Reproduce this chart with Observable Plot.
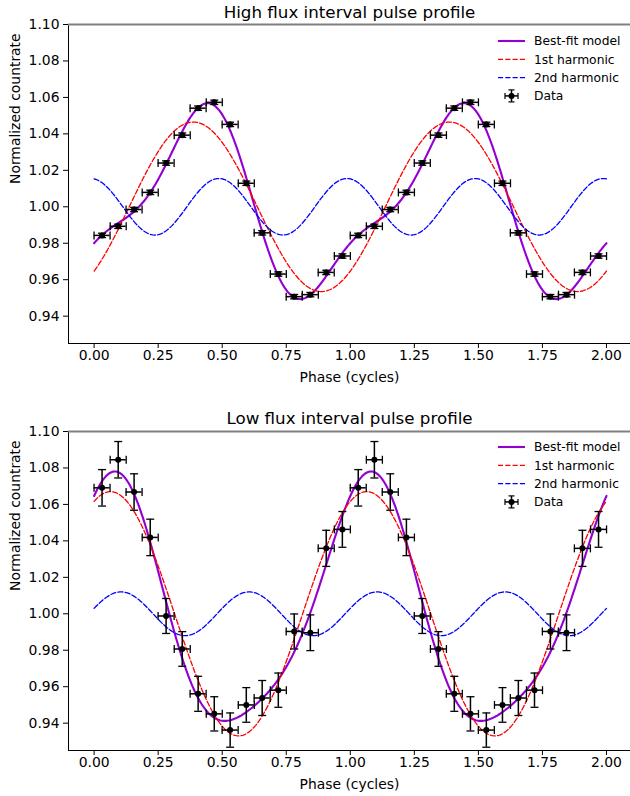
<!DOCTYPE html>
<html>
<head>
<meta charset="utf-8">
<script src="https://cdn.jsdelivr.net/npm/d3@7"></script>
<script src="https://cdn.jsdelivr.net/npm/@observablehq/plot@0.6"></script>
<style>
  html, body { margin: 0; padding: 0; background: white; }
  #chart svg { display: block; }
</style>
</head>
<body>
<div id="chart"></div>
<script>
// ---- data ----
const binPhases = [0.031, 0.094, 0.156, 0.219, 0.281, 0.344, 0.406, 0.469,
                   0.531, 0.594, 0.656, 0.719, 0.781, 0.844, 0.906, 0.969];
const phaseErr = 0.03125;
const cycles = [0, 1];

const highRate = [0.9843, 0.9893, 0.9985, 1.0079, 1.0240, 1.0393, 1.0541, 1.0573,
                  1.0452, 1.0129, 0.9857, 0.9631, 0.9507, 0.9518, 0.9640, 0.9730];
const highErr  = [0.0012, 0.0012, 0.0012, 0.0012, 0.0012, 0.0012, 0.0012, 0.0012,
                  0.0012, 0.0012, 0.0012, 0.0012, 0.0012, 0.0012, 0.0012, 0.0012];

const lowRate = [1.0691, 1.0845, 1.0668, 1.0419, 0.9988, 0.9807, 0.9561, 0.9451,
                 0.9362, 0.9500, 0.9538, 0.9581, 0.9903, 0.9896, 1.0359, 1.0463];
const lowErr  = [0.0100, 0.0100, 0.0100, 0.0100, 0.0096, 0.0095, 0.0096, 0.0094,
                 0.0094, 0.0095, 0.0096, 0.0094, 0.0096, 0.0098, 0.0099, 0.0098];

// harmonic fit parameters (amplitude, phase of maximum)
const highHarm1 = [0.0465, 0.387];
const highHarm2 = [0.0155, 0.487];
const lowHarm1  = [0.067, 0.064];
const lowHarm2  = [0.012, 0.105];

const xTicks = [0, 0.25, 0.5, 0.75, 1.0, 1.25, 1.5, 1.75, 2.0];
const yTicks = [0.94, 0.96, 0.98, 1.00, 1.02, 1.04, 1.06, 1.08, 1.10];
const legendLabels = ["Best-fit model", "1st harmonic", "2nd harmonic", "Data"];

// ---- helpers ----
function makeData(rate, err) {
  const out = [];
  for (const c of cycles) binPhases.forEach((p, i) => out.push({phase: p + c, y: rate[i], yerr: err[i]}));
  return out;
}
function makeModel(h1, h2) {
  const grid = d3.range(0, 2.0001, 0.005);
  return grid.map(p => {
    const a = h1[0] * Math.cos(2 * Math.PI * (p - h1[1]));
    const b = h2[0] * Math.cos(4 * Math.PI * (p - h2[1]));
    return {phase: p, total: 1 + a + b, h1: 1 + a, h2: 1 + b};
  });
}
const hcap = {draw(ctx) { ctx.moveTo(-4, 0); ctx.lineTo(4, 0); }};
const vcap = {draw(ctx) { ctx.moveTo(0, -4); ctx.lineTo(0, 4); }};
const DASH = "5.1,2.2";
const FS = 13.9;

function panel(cfg) {
  const data = makeData(cfg.rate, cfg.err);
  const model = makeModel(cfg.h1, cfg.h2);
  const H = 398;
  const svg = Plot.plot({
    width: 630, height: H,
    marginTop: cfg.top, marginBottom: H - cfg.bottom, marginLeft: 68, marginRight: 0,
    style: {fontFamily: "DejaVu Sans", fontSize: FS + "px", color: "black", background: "white"},
    x: {domain: [-0.1, 2.1], range: [68, 631.6]},
    y: {domain: [0.925, 1.10]},
    marks: [
      Plot.axisX({ticks: xTicks, tickFormat: d3.format(".2f"), tickSize: 5, tickPadding: 2, fontSize: FS, label: null}),
      Plot.axisY({ticks: yTicks, tickFormat: d3.format(".2f"), tickSize: 5, tickPadding: 4, fontSize: FS, label: null}),
      Plot.ruleX([-0.1], {stroke: "black", strokeWidth: 1}),
      Plot.ruleY([0.925], {stroke: "black", strokeWidth: 1}),
      Plot.ruleY([1.10], {stroke: "#808080", strokeWidth: 2}),
      Plot.line(model, {x: "phase", y: "total", stroke: "#9400d3", strokeWidth: 2.1}),
      Plot.line(model, {x: "phase", y: "h1", stroke: "red", strokeWidth: 1.3, strokeDasharray: DASH}),
      Plot.line(model, {x: "phase", y: "h2", stroke: "blue", strokeWidth: 1.3, strokeDasharray: DASH}),
      Plot.ruleX(data, {x: "phase", y1: d => d.y - d.yerr, y2: d => d.y + d.yerr, stroke: "black", strokeWidth: 1.5}),
      Plot.ruleY(data, {y: "y", x1: d => d.phase - phaseErr, x2: d => d.phase + phaseErr, stroke: "black", strokeWidth: 1.5}),
      Plot.dot(data, {x: "phase", y: d => d.y + d.yerr, symbol: hcap, fill: "none", stroke: "black", strokeWidth: 1.3}),
      Plot.dot(data, {x: "phase", y: d => d.y - d.yerr, symbol: hcap, fill: "none", stroke: "black", strokeWidth: 1.3}),
      Plot.dot(data, {x: d => d.phase - phaseErr, y: "y", symbol: vcap, fill: "none", stroke: "black", strokeWidth: 1.3}),
      Plot.dot(data, {x: d => d.phase + phaseErr, y: "y", symbol: vcap, fill: "none", stroke: "black", strokeWidth: 1.3}),
      Plot.dot(data, {x: "phase", y: "y", r: 3, fill: "black", stroke: "none"}),
      Plot.text([cfg.title], {frameAnchor: "top", dy: cfg.titleDy, fontSize: 16.7, lineAnchor: "middle", fill: "black"}),
      Plot.text(["Phase (cycles)"], {frameAnchor: "bottom", dy: 34, fontSize: FS, lineAnchor: "middle", fill: "black"}),
      Plot.text(["Normalized countrate"], {frameAnchor: "left", dx: -53, rotate: -90, fontSize: FS, lineAnchor: "middle", fill: "black"})
    ]
  });
  // legend
  const g = d3.select(svg).append("g")
    .attr("font-family", "DejaVu Sans").attr("font-size", "12.3px").attr("text-anchor", "start");
  const y0 = cfg.top + cfg.legendOffset, dyRow = 18.3;
  const styles = [
    {stroke: "#9400d3", w: 2.1, dash: null},
    {stroke: "red", w: 1.3, dash: DASH},
    {stroke: "blue", w: 1.3, dash: DASH}
  ];
  styles.forEach((s, i) => {
    const y = y0 + i * dyRow;
    const l = g.append("line").attr("x1", 498).attr("x2", 525).attr("y1", y).attr("y2", y)
      .attr("stroke", s.stroke).attr("stroke-width", s.w);
    if (s.dash) l.attr("stroke-dasharray", s.dash);
  });
  const yd = y0 + 3 * dyRow;
  g.append("line").attr("x1", 505).attr("x2", 518).attr("y1", yd).attr("y2", yd).attr("stroke", "black").attr("stroke-width", 1.5);
  g.append("line").attr("x1", 511.5).attr("x2", 511.5).attr("y1", yd - 6).attr("y2", yd + 6).attr("stroke", "black").attr("stroke-width", 1.5);
  [[505, yd, 0], [518, yd, 0], [511.5, yd - 6, 1], [511.5, yd + 6, 1]].forEach(([cx, cy, h]) => {
    if (h) g.append("line").attr("x1", cx - 3).attr("x2", cx + 3).attr("y1", cy).attr("y2", cy).attr("stroke", "black").attr("stroke-width", 1.2);
    else g.append("line").attr("x1", cx).attr("x2", cx).attr("y1", cy - 3).attr("y2", cy + 3).attr("stroke", "black").attr("stroke-width", 1.2);
  });
  g.append("circle").attr("cx", 511.5).attr("cy", yd).attr("r", 3).attr("fill", "black");
  legendLabels.forEach((t, i) => {
    g.append("text").attr("x", 534).attr("y", y0 + i * dyRow).attr("dy", "0.35em")
      .attr("text-anchor", "start").attr("fill", "black").text(t);
  });
  return svg;
}

const chart = document.getElementById("chart");
chart.appendChild(panel({title: "High flux interval pulse profile", rate: highRate, err: highErr,
  h1: highHarm1, h2: highHarm2, top: 24, bottom: 343, titleDy: -12, legendOffset: 17}));
chart.appendChild(panel({title: "Low flux interval pulse profile", rate: lowRate, err: lowErr,
  h1: lowHarm1, h2: lowHarm2, top: 33, bottom: 352, titleDy: -13, legendOffset: 16}));
</script>
</body>
</html>
